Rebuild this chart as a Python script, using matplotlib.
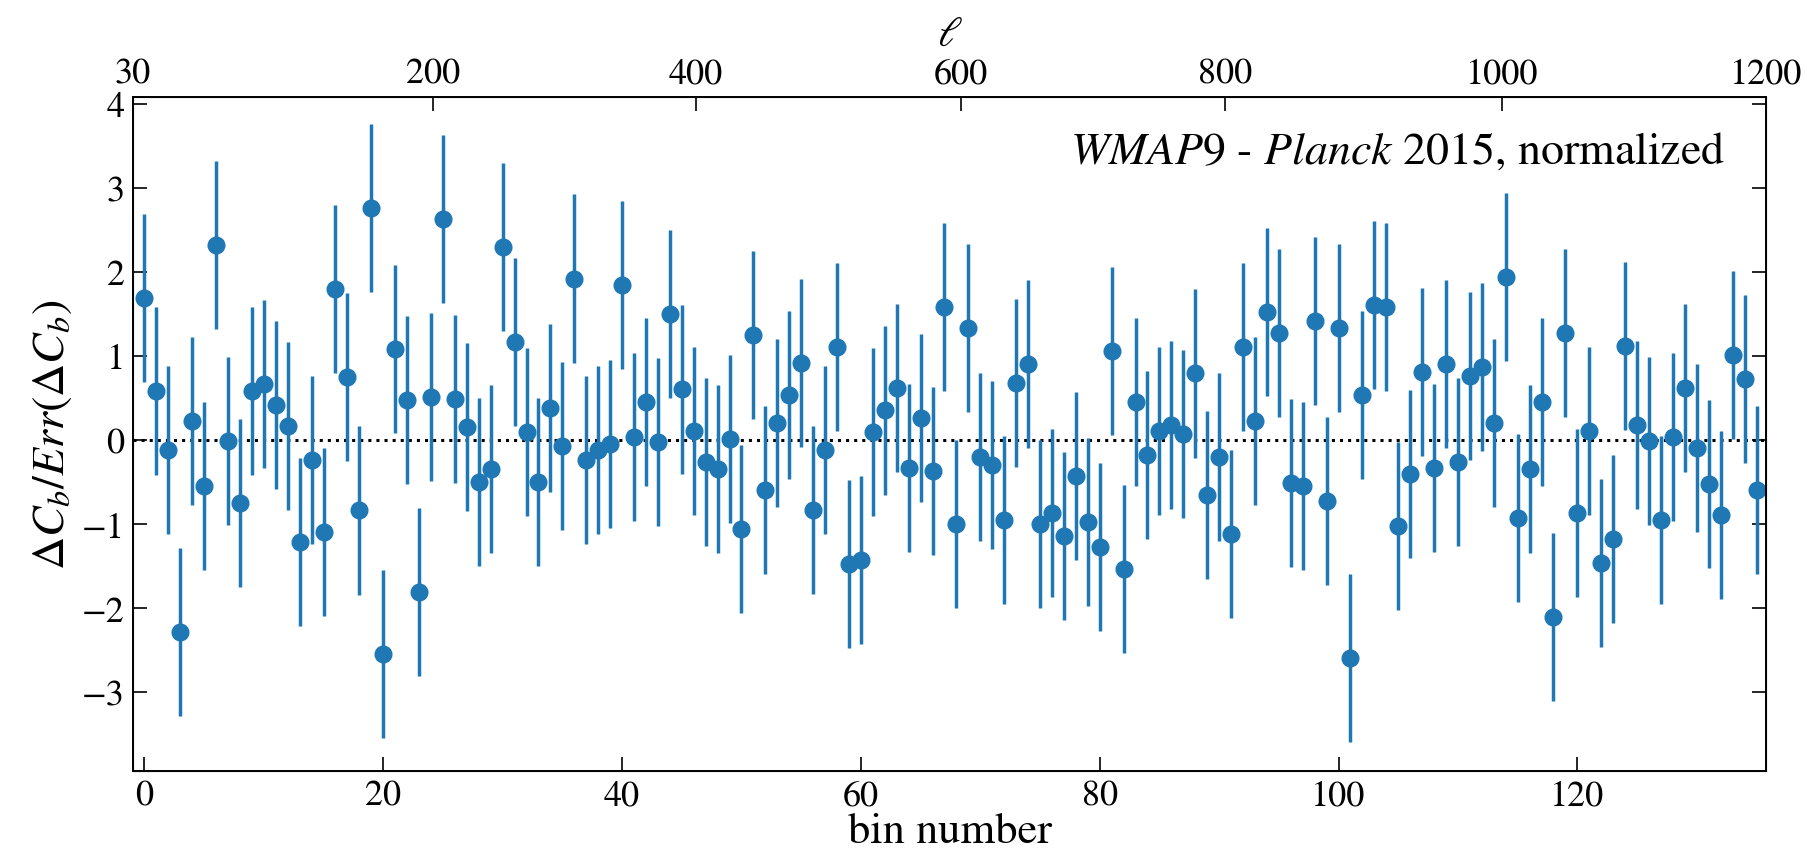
import numpy as np
import matplotlib
matplotlib.use("Agg")
import matplotlib.pyplot as plt

plt.rcParams['font.family'] = ['STIXGeneral', 'DejaVu Serif']
plt.rcParams['mathtext.fontset'] = 'stix'

# ---- data ----
values = [1.69, 0.58, -0.12, -2.29, 0.22, -0.55, 2.32, -0.01, -0.75, 0.58,
          0.67, 0.41, 0.16, -1.21, -0.24, -1.10, 1.80, 0.75, -0.84, 2.76,
          -2.55, 1.08, 0.47, -1.81, 0.51, 2.63, 0.49, 0.15, -0.50, -0.35,
          2.30, 1.16, 0.09, -0.50, 0.38, -0.07, 1.92, -0.24, -0.12, -0.05,
          1.84, 0.03, 0.45, -0.03, 1.50, 0.60, 0.11, -0.26, -0.35, 0.01,
          -1.06, 1.25, -0.60, 0.20, 0.53, 0.92, -0.83, -0.12, 1.10, -1.48,
          -1.43, 0.09, 0.35, 0.62, -0.33, 0.26, -0.37, 1.58, -1.00, 1.33,
          -0.20, -0.30, -0.95, 0.68, 0.90, -1.00, -0.87, -1.14, -0.43, -0.98,
          -1.27, 1.06, -1.54, 0.45, -0.18, 0.11, 0.18, 0.07, 0.79, -0.66,
          -0.20, -1.12, 1.10, 0.22, 1.52, 1.27, -0.51, -0.55, 1.42, -0.73,
          1.33, -2.59, 0.53, 1.61, 1.58, -1.02, -0.41, 0.81, -0.33, 0.90,
          -0.26, 0.76, 0.87, 0.20, 1.94, -0.93, -0.35, 0.45, -2.11, 1.27,
          -0.87, 0.11, -1.46, -1.18, 1.12, 0.18, -0.01, -0.95, 0.03, 0.62,
          -0.10, -0.52, -0.89, 1.01, 0.73, -0.60]
bins = np.arange(len(values))
err = 1.0  # normalized errors

bin_ticks = [0, 20, 40, 60, 80, 100, 120]
y_ticks = [-3, -2, -1, 0, 1, 2, 3, 4]
ell_labels = [30, 200, 400, 600, 800, 1000, 1200]
ell_tick_bin = [-0.95, 24.2, 46.2, 68.4, 90.5, 113.7, 135.8]

# ---- plot ----
fig = plt.figure(figsize=(18.08, 8.62), dpi=100)
ax = fig.add_axes([0.0736, 0.1044, 0.9032, 0.7819])

ax.axhline(0, color='black', linestyle=':', linewidth=2.2, zorder=1)
ax.errorbar(bins, values, yerr=err, fmt='o', color='#1f77b4', ms=12,
            elinewidth=2.5, capsize=0, zorder=2)

ax.set_xlim(-0.95, 135.8)
ax.set_ylim(-3.94, 4.08)
ax.set_xticks(bin_ticks)
ax.set_yticks(y_ticks)
ax.set_yticklabels([str(t).replace('-', '\u2212') for t in y_ticks])
ax.tick_params(direction='in', length=10, width=1.2, labelsize=26,
               right=True, top=False, pad=6)
ax.set_xlabel('bin number', fontsize=32, labelpad=0)
ax.set_ylabel(r'$\Delta C_b/Err(\Delta C_b)$', fontsize=33, labelpad=6)
for s in ax.spines.values():
    s.set_linewidth(1.4)

ax2 = ax.twiny()
ax2.set_xlim(ax.get_xlim())
ax2.set_xticks(ell_tick_bin)
ax2.set_xticklabels([str(v) for v in ell_labels])
ax2.tick_params(direction='in', length=10, width=1.2, labelsize=26, pad=5)
ax2.set_xlabel(r'$\ell$', fontsize=30, labelpad=9)

ax.text(0.975, 0.918, r'$\it{WMAP9}$ - $\it{Planck}$ 2015, normalized',
        transform=ax.transAxes, ha='right', va='center', fontsize=33)

fig.savefig('out.png', dpi=100)
